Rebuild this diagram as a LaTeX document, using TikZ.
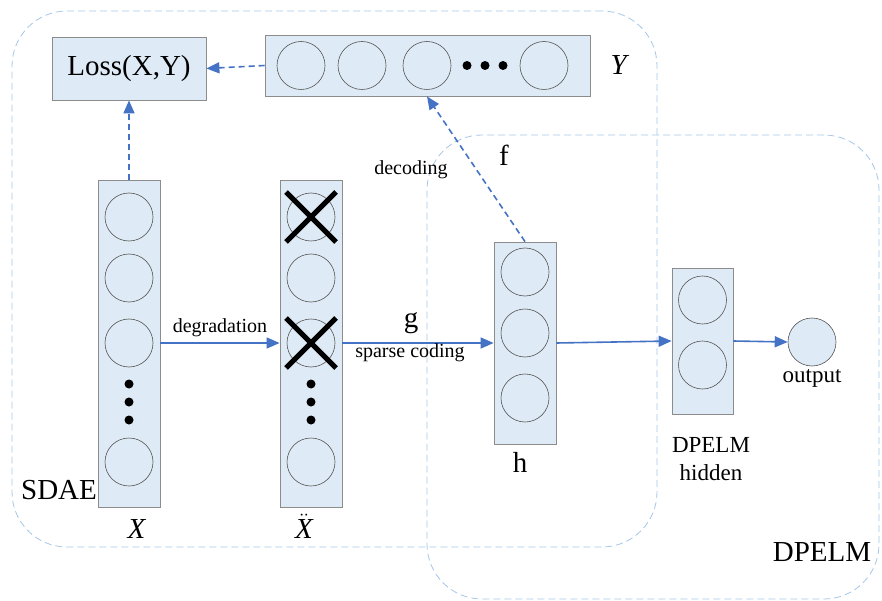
\documentclass[tikz,border=0pt]{standalone}
\usepackage{fontspec}
\setmainfont{LiberationSerif}[Extension=.ttf, UprightFont=*-Regular, ItalicFont=*-Italic, BoldFont=*-Bold, BoldItalicFont=*-BoldItalic]
\usetikzlibrary{arrows.meta, positioning}

\definecolor{boxblue}{RGB}{222,234,245}
\definecolor{boxgray}{RGB}{140,140,140}
\definecolor{unitgray}{RGB}{85,85,85}
\definecolor{flowblue}{RGB}{68,114,196}
\definecolor{groupblue}{RGB}{165,198,232}

\begin{document}
\begin{tikzpicture}[x=1pt, y=-1pt,
  layer/.style={rectangle, draw=boxgray, fill=boxblue, line width=0.8pt, inner sep=0pt},
  unit/.style={circle, draw=unitgray, line width=0.6pt, minimum size=48pt, inner sep=0pt},
  dot/.style={circle, fill=black, minimum size=9pt, inner sep=0pt},
  group/.style={rectangle, draw=groupblue, dash pattern=on 7pt off 4pt, line width=0.8pt, rounded corners=55pt, inner sep=0pt},
  flow/.style={draw=flowblue, line width=1.6pt, -{Triangle[length=13pt,width=11pt]}},
  back/.style={flow, dash pattern=on 6pt off 4pt},
  kill/.style={line width=5pt, black},
  big/.style={font=\fontsize{29}{31}\selectfont},
  small/.style={font=\fontsize{20}{22}\selectfont},
  mid/.style={font=\fontsize{23}{28}\selectfont, align=center}]

  \useasboundingbox (0,0) rectangle (882,601);

  % dashed groups
  \node [group, minimum width=645pt, minimum height=536pt] (sdae) at (334.5,279) {};
  \node [group, minimum width=452pt, minimum height=464pt] (dpelm) at (653,367) {};

  % loss and reconstruction Y
  \node [layer, minimum width=154pt, minimum height=63pt, big] (loss) at (129,68.5) {Loss(X,Y)};
  \node [layer, minimum width=325pt, minimum height=61pt] (ybox) at (427.5,65.5) {};
  \node [unit] (y1) at (301,65.5) {};
  \node [unit] (y2) at (362,65.5) {};
  \node [unit] (y3) at (427,65.5) {};
  \node [dot] (yd1) at (467,65.5) {};
  \node [dot] (yd2) at (485,65.5) {};
  \node [dot] (yd3) at (503,65.5) {};
  \node [unit] (y4) at (544,65.5) {};
  \node [big] (ylab) at (620,65) {\textit{Y}};

  % input X
  \node [layer, minimum width=62pt, minimum height=327pt] (xcol) at (129,343.5) {};
  \node [unit] (x1) at (129,217) {};
  \node [unit] (x2) at (129,278) {};
  \node [unit] (x3) at (129,343) {};
  \node [dot] (xd1) at (129,384) {};
  \node [dot] (xd2) at (129,402) {};
  \node [dot] (xd3) at (129,420) {};
  \node [unit] (x4) at (129,462) {};

  % corrupted input
  \node [layer, minimum width=62pt, minimum height=327pt] (ncol) at (311,343.5) {};
  \node [unit] (n1) at (311,217) {};
  \node [unit] (n2) at (311,278) {};
  \node [unit] (n3) at (311,343) {};
  \node [dot] (nd1) at (311,384) {};
  \node [dot] (nd2) at (311,402) {};
  \node [dot] (nd3) at (311,420) {};
  \node [unit] (n4) at (311,462) {};
  \draw [kill] ([shift={(-25,-25)}]n1.center) -- ([shift={(25,25)}]n1.center);
  \draw [kill] ([shift={(-25,25)}]n1.center) -- ([shift={(25,-25)}]n1.center);
  \draw [kill] ([shift={(-25,-25)}]n3.center) -- ([shift={(25,25)}]n3.center);
  \draw [kill] ([shift={(-25,25)}]n3.center) -- ([shift={(25,-25)}]n3.center);

  % code h
  \node [layer, minimum width=62pt, minimum height=202pt] (hcol) at (525,343) {};
  \node [unit] (h1) at (525,272) {};
  \node [unit] (h2) at (525,333) {};
  \node [unit] (h3) at (525,398) {};

  % DPELM hidden and output
  \node [layer, minimum width=61pt, minimum height=146pt] (dcol) at (702.5,341) {};
  \node [unit] (d1) at (702.5,300) {};
  \node [unit] (d2) at (702.5,365) {};
  \node [unit, fill=boxblue] (out) at (812,342) {};

  % labels
  \node [big] (xlab) at (137,529) {\textit{X}};
  \node [big, inner sep=0pt] (nlab) at (304,526) {$\ddot{\mathit{X}}$};
  \node [big] (hlab) at (520,462) {h};
  \node [mid] (dlab) at (711,459) {DPELM\\hidden};
  \node [mid, below=0pt of out] (olab) {output};
  \node [big] (sdaelab) at (59,490) {SDAE};
  \node [big] (dpelmlab) at (822,552) {DPELM};

  % connectors
  \draw [back] (xcol.north) -- (loss.south);
  \draw [back] (ybox.west) -- (loss.east);
  \draw [back] (hcol.north) -- (ybox.south -| y3);
  \draw [flow] (xcol.east |- x3) -- node[small, above=2pt] {degradation} (ncol.west |- x3);
  \draw [flow] (ncol.east |- n3) -- (hcol.west |- n3);
  \draw [flow] (hcol.east) -- (dcol.west);
  \draw [flow] (dcol.east) -- (out.west);
  \node [big] (glab) at (411,323) {g};
  \node [small] (slab) at (410,353) {sparse coding};
  \node [small] (declab) at (411,170) {decoding};
  \node [big] (flab) at (504,155) {f};
\end{tikzpicture}
\end{document}
